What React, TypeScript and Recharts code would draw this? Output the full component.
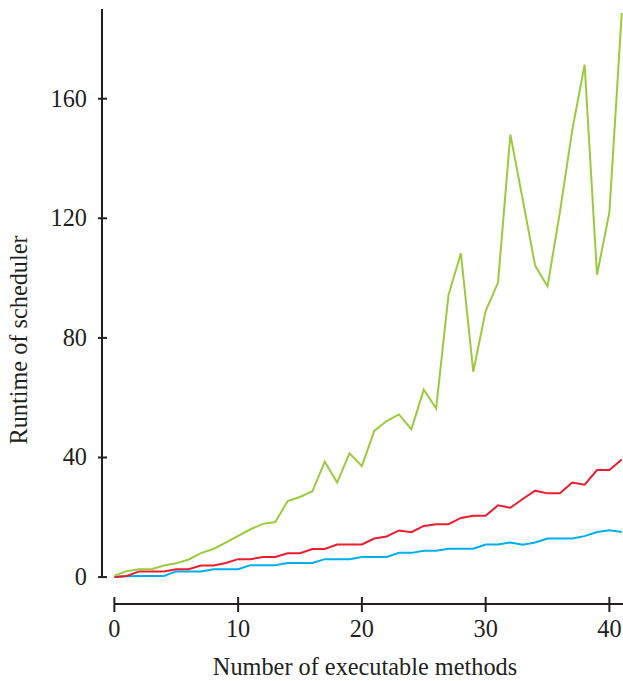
import React from 'react';
import { LineChart, Line, XAxis, YAxis, ReferenceLine, Label } from 'recharts';

const methods = [
  0, 1, 2, 3, 4, 5, 6, 7, 8, 9, 10, 11, 12, 13, 14, 15, 16, 17, 18, 19, 20,
  21, 22, 23, 24, 25, 26, 27, 28, 29, 30, 31, 32, 33, 34, 35, 36, 37, 38, 39, 40, 41,
];
const greenRuntime = [
  0.5, 2, 2.6, 2.6, 3.9, 4.6, 5.9, 8, 9.4, 11.5,
  13.8, 16, 17.8, 18.4, 25.4, 26.8, 28.7, 38.6, 31.6, 41.4,
  37.1, 48.9, 52.2, 54.4, 49.4, 62.7, 56.4, 94.4, 108.3, 68.7,
  89, 98.5, 148, 126.2, 104.2, 97.2, 122, 149.6, 171.4, 101.1,
  122, 188.7,
];
const redRuntime = [
  0, 0.4, 1.9, 1.9, 1.9, 2.6, 2.6, 3.9, 3.9, 4.7,
  6, 6, 6.7, 6.7, 8, 8, 9.4, 9.4, 10.9, 10.9,
  10.9, 12.9, 13.6, 15.6, 15, 17.1, 17.7, 17.7, 19.8, 20.5,
  20.5, 24, 23.2, 26.1, 28.9, 28, 28, 31.6, 30.9, 35.8,
  35.8, 39.3,
];
const blueRuntime = [
  0, 0.3, 0.4, 0.4, 0.4, 1.9, 1.9, 1.9, 2.6, 2.6,
  2.6, 4, 4, 4, 4.7, 4.7, 4.7, 6, 6, 6,
  6.7, 6.7, 6.7, 8.1, 8.1, 8.8, 8.8, 9.5, 9.5, 9.5,
  10.9, 10.9, 11.6, 10.8, 11.6, 12.9, 12.9, 12.9, 13.7, 15.1,
  15.7, 15.1,
];
const xTicks = [0, 10, 20, 30, 40];
const yTicks = [0, 40, 80, 120, 160];

const data = methods.map((n, i) => ({
  n,
  green: greenRuntime[i],
  red: redRuntime[i],
  blue: blueRuntime[i],
}));

const INK = '#231F20';
const FONT = 'Liberation Serif, Times New Roman, serif';
const FS = 24.3;

const YTick = (props: any) => {
  const { x, y, payload } = props;
  return (
    <g>
      <line x1={x - 4} x2={x + 5} y1={y} y2={y} stroke={INK} strokeWidth={2} />
      <text x={x - 15} y={y + 8} textAnchor="end" fontFamily={FONT} fontSize={FS} fill={INK}>
        {payload.value}
      </text>
    </g>
  );
};

const XTick = (props: any) => {
  const { x, y, payload } = props;
  return (
    <g>
      <line x1={x} x2={x} y1={y - 7} y2={y + 8} stroke={INK} strokeWidth={2} />
      <text x={x} y={y + 33} textAnchor="middle" fontFamily={FONT} fontSize={FS} fill={INK}>
        {payload.value}
      </text>
    </g>
  );
};

export default function App() {
  return (
    <div style={{ position: 'absolute', left: 0, top: 0, background: '#fff' }}>
      <LineChart width={623} height={681} data={data} margin={{ top: 9, right: 0, bottom: 0, left: 0 }}>
        <XAxis
          dataKey="n"
          type="number"
          domain={[-1, 41.1]}
          ticks={xTicks}
          allowDataOverflow
          axisLine={false}
          tickLine={false}
          tickSize={0}
          tickMargin={0}
          height={77}
          tick={<XTick />}
          interval={0}
        >
          <Label
            content={(p: any) => (
              <text
                x={p.viewBox.x + 263}
                y={p.viewBox.y + 71}
                textAnchor="middle"
                fontFamily={FONT}
                fontSize={FS}
                fill={INK}
              >
                Number of executable methods
              </text>
            )}
          />
        </XAxis>
        <YAxis
          type="number"
          domain={[-9, 190]}
          ticks={yTicks}
          allowDataOverflow
          axisLine={false}
          tickLine={false}
          tickSize={0}
          tickMargin={0}
          width={102}
          tick={<YTick />}
          interval={0}
        >
          <Label
            content={(p: any) => {
              const lx = p.viewBox.x + 27;
              const ly = p.viewBox.y + 331;
              return (
                <text
                  x={lx}
                  y={ly}
                  transform={`rotate(-90, ${lx}, ${ly})`}
                  textAnchor="middle"
                  fontFamily={FONT}
                  fontSize={FS}
                  fill={INK}
                >
                  Runtime of scheduler
                </text>
              );
            }}
          />
        </YAxis>
        <ReferenceLine
          segment={[{ x: 0, y: -9 }, { x: 41.1, y: -9 }]}
          stroke={INK}
          strokeWidth={2}
          ifOverflow="visible"
        />
        <ReferenceLine
          segment={[{ x: -1, y: 0 }, { x: -1, y: 190 }]}
          stroke={INK}
          strokeWidth={2}
          ifOverflow="visible"
        />
        <Line type="linear" dataKey="blue" stroke="#00AEEF" strokeWidth={2} dot={false} isAnimationActive={false} />
        <Line type="linear" dataKey="red" stroke="#ED1C2E" strokeWidth={2} dot={false} isAnimationActive={false} />
        <Line type="linear" dataKey="green" stroke="#9BCB3C" strokeWidth={2} dot={false} isAnimationActive={false} />
      </LineChart>
    </div>
  );
}
